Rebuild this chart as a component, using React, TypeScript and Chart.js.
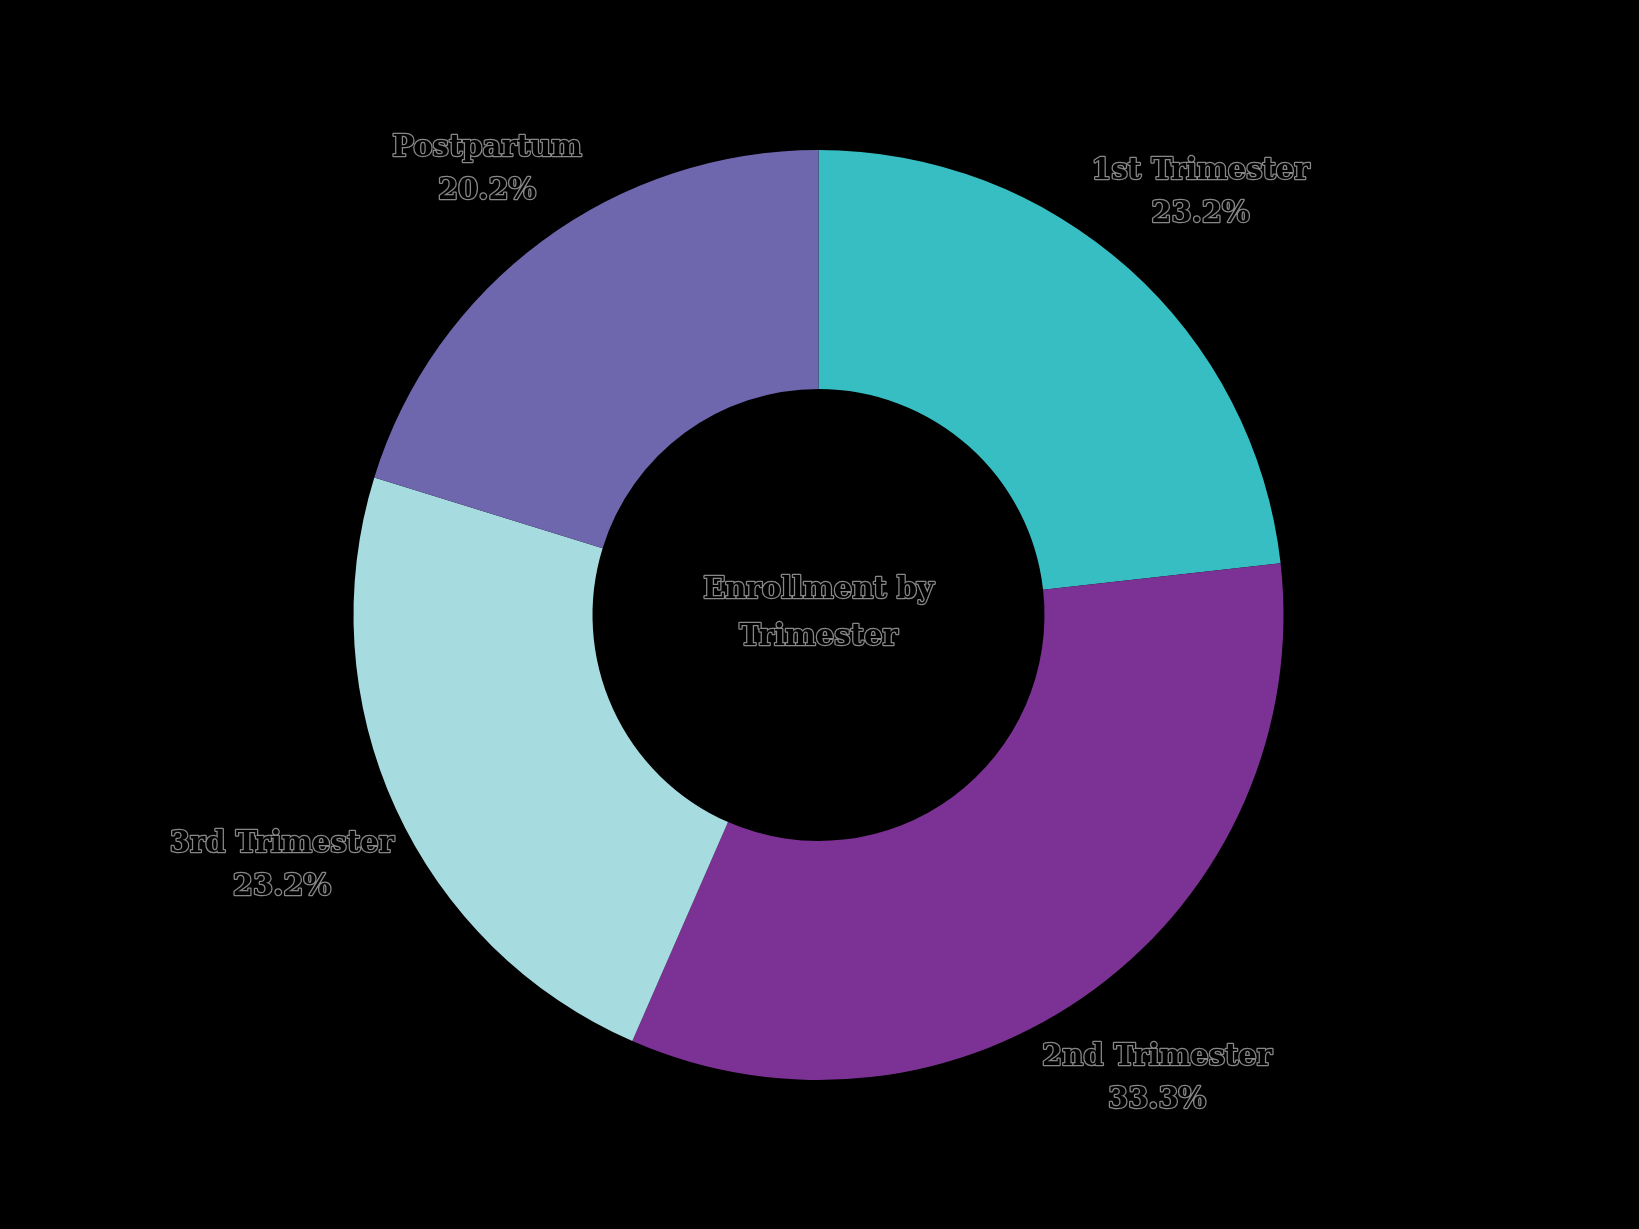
import React, { useEffect, useRef } from "react";
import { Chart, registerables } from "chart.js";

Chart.register(...registerables);

const categories = ["1st Trimester", "2nd Trimester", "3rd Trimester", "Postpartum"];
const shares = [23.2, 33.3, 23.2, 20.2];
const sliceColors = ["#37BEC3", "#7B3294", "#A6DBE0", "#6E67AE"];
const centerLines = ["Enrollment by", "Trimester"];

const FONT = "bold 29px 'DejaVu Serif', serif";
const LINE_H = 43;

function drawText(ctx: CanvasRenderingContext2D, text: string, x: number, y: number) {
  ctx.lineJoin = "round";
  ctx.strokeStyle = "rgba(150,150,150,0.9)";
  ctx.lineWidth = 2.5;
  ctx.strokeText(text, x, y);
  ctx.fillStyle = "#000";
  ctx.fillText(text, x, y);
}

const labelPlugin = {
  id: "outsideLabels",
  afterDraw(chart: any) {
    const ctx: CanvasRenderingContext2D = chart.ctx;
    const meta = chart.getDatasetMeta(0);
    ctx.save();
    ctx.font = FONT;
    ctx.textAlign = "center";
    ctx.textBaseline = "middle";
    let cx = 0, cy = 0;
    meta.data.forEach((arc: any, i: number) => {
      const p = arc.getProps(["x", "y", "startAngle", "endAngle", "outerRadius"], true);
      cx = p.x; cy = p.y;
      const mid = (p.startAngle + p.endAngle) / 2;
      const dx = Math.cos(mid), dy = Math.sin(mid);
      const lines = [categories[i], shares[i].toFixed(1) + "%"];
      const w = Math.max(...lines.map((l) => ctx.measureText(l).width));
      const h = LINE_H + 30;
      const r = p.outerRadius + 8 + Math.abs(dx) * w / 2 + Math.abs(dy) * h / 2;
      const lx = p.x + dx * r, ly = p.y + dy * r + 5;
      drawText(ctx, lines[0], lx, ly - LINE_H / 2);
      drawText(ctx, lines[1], lx, ly + LINE_H / 2);
    });
    drawText(ctx, centerLines[0], cx, cy - 47 / 2 - 1);
    drawText(ctx, centerLines[1], cx, cy + 47 / 2 - 1);
    ctx.restore();
  },
};

export default function App() {
  const ref = useRef<HTMLCanvasElement>(null);
  useEffect(() => {
    document.body.style.margin = "0";
    document.body.style.overflow = "hidden";
    document.body.style.background = "#000";
    const chart = new Chart(ref.current!, {
      type: "doughnut",
      data: {
        labels: categories,
        datasets: [
          {
            data: shares,
            backgroundColor: sliceColors,
            borderWidth: 0,
          },
        ],
      },
      options: {
        animation: false,
        responsive: false,
        cutout: "48.6%",
        layout: { padding: { top: 150, bottom: 149, left: 0, right: 2 } },
        plugins: { legend: { display: false }, tooltip: { enabled: false } },
      },
      plugins: [labelPlugin],
    });
    return () => chart.destroy();
  }, []);
  return (
    <div style={{ width: 1639, height: 1229, background: "#000" }}>
      <canvas ref={ref} width={1639} height={1229} style={{ display: "block", width: 1639, height: 1229 }} />
    </div>
  );
}
